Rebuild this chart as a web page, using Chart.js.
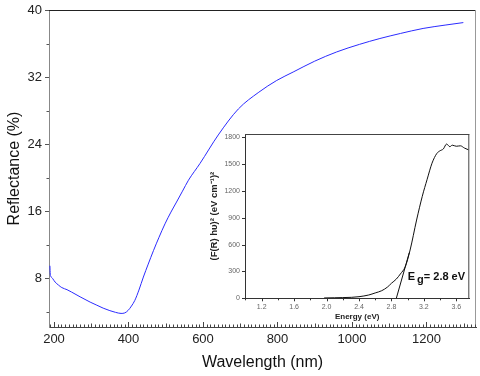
<!DOCTYPE html>
<html><head><meta charset="utf-8">
<script src="https://cdn.jsdelivr.net/npm/chart.js@4.4.0/dist/chart.umd.min.js"></script>
<style>
html,body{margin:0;padding:0;background:#fff;}
#wrap{position:relative;width:480px;height:376px;overflow:hidden;}
#main{position:absolute;left:0;top:0;}
#inset{position:absolute;left:200px;top:125px;}
</style></head><body>
<div id="wrap"><canvas id="main" width="480" height="376"></canvas><canvas id="inset" width="280" height="200"></canvas></div>
<script>
// ---- main chart data ----
const wavelength = [189,190,191,196,203,212,221,235,247,270,297,315,332,350,365,380,390,399,408,417,428,440,453,467,482,498,514,529,545,561,592,641,695,750,798,842,900,959,1020,1075,1130,1191,1250,1299];
const reflectance = [9.5,8.5,8.3,8.0,7.56,7.2,6.9,6.65,6.37,5.8,5.17,4.8,4.45,4.15,3.95,3.82,3.88,4.18,4.7,5.37,6.6,8.16,9.7,11.3,12.9,14.5,15.9,17.1,18.4,19.7,21.7,25.1,28.2,30.2,31.6,32.6,33.9,35.0,35.9,36.6,37.2,37.8,38.2,38.5];
const xTicks = [200,400,600,800,1000,1200];
const yTicks = [8,16,24,32,40];
// ---- inset data ----
const energy = [1.97,2.1,2.2,2.31,2.4,2.52,2.6,2.68,2.75,2.80,2.86,2.91,2.97,3.03,3.11,3.18,3.24,3.30,3.36,3.40,3.44,3.48,3.52,3.55,3.60,3.65,3.70,3.75];
const fr = [4,6,8,11,18,37,60,85,125,168,215,272,353,540,875,1140,1330,1510,1620,1650,1670,1725,1695,1712,1700,1705,1680,1660];
const tangentE = [2.86,3.02];
const tangentF = [0,510];
const insetXTicks = [1.2,1.6,2.0,2.4,2.8,3.2,3.6];
const insetYTicks = [0,300,600,900,1200,1500,1800];
const bandGapLabel = {E: 3.0, F: 240, main: 'E', sub: 'g', rest: '= 2.8 eV'};

const FAM = '"Liberation Sans", Arial, sans-serif';

function seg(ctx, x1, y1, x2, y2, c) {
  ctx.strokeStyle = c; ctx.beginPath(); ctx.moveTo(x1, y1); ctx.lineTo(x2, y2); ctx.stroke();
}
function noPad(s) { s.paddingTop = 0; s.paddingBottom = 0; s.paddingLeft = 0; s.paddingRight = 0; }

const mainDecor = {
  id: 'mainDecor',
  afterDraw(chart) {
    const {ctx, chartArea: a, scales: {x, y}} = chart;
    ctx.save();
    ctx.lineWidth = 1;
    seg(ctx, a.left - 1, a.top + 0.5, a.right, a.top + 0.5, '#222');
    seg(ctx, a.right - 0.5, a.top, a.right - 0.5, a.bottom, '#999');
    for (let v = 190; v <= x.max; v += 10) {
      const px = Math.round(x.getPixelForValue(v)) + 0.5;
      const len = v % 200 === 0 ? 5 : (v % 100 === 0 ? 3.5 : 2.5);
      seg(ctx, px, a.bottom, px, a.bottom - len, '#444');
    }
    for (let v = 4; v <= 40; v += 4) {
      const py = Math.round(y.getPixelForValue(v)) + 0.5;
      const len = v % 8 === 0 ? 4 : 2.5;
      seg(ctx, a.left - len, py, a.left, py, '#555');
    }
    ctx.restore();
  }
};

new Chart(document.getElementById('main'), {
  type: 'line',
  data: {datasets: [{
    data: wavelength.map((w, i) => ({x: w, y: reflectance[i]})),
    borderColor: '#2b2bff', borderWidth: 1, pointRadius: 0,
    cubicInterpolationMode: 'monotone', fill: false
  }]},
  options: {
    responsive: false, animation: false, devicePixelRatio: 1,
    layout: {padding: {top: 10, right: 4, left: 0, bottom: 0}},
    plugins: {legend: {display: false}, tooltip: {enabled: false}},
    scales: {
      x: {
        type: 'linear', min: 186.6, max: 1333,
        afterBuildTicks: s => { s.ticks = xTicks.map(v => ({value: v})); },
        afterFit: s => { s.height = 49; noPad(s); },
        grid: {display: false, drawTicks: false},
        border: {color: '#444', width: 1},
        ticks: {padding: 5, color: '#222', font: {family: FAM, size: 13}, maxRotation: 0, autoSkip: false, callback: v => String(v)},
        title: {display: true, text: 'Wavelength (nm)', color: '#111', font: {family: FAM, size: 16}, padding: {top: 0, bottom: 4}}
      },
      y: {
        type: 'linear', min: 2.2, max: 40,
        afterBuildTicks: s => { s.ticks = yTicks.map(v => ({value: v})); },
        afterFit: s => { s.width = 49; noPad(s); },
        grid: {display: false, drawTicks: false},
        border: {color: '#888', width: 1},
        ticks: {padding: 7, color: '#222', font: {family: FAM, size: 13}, autoSkip: false, callback: v => String(v)},
        title: {display: true, text: 'Reflectance (%)', color: '#111', font: {family: FAM, size: 16}, padding: {top: 5, bottom: 0}}
      }
    }
  },
  plugins: [mainDecor]
});

const insetDecor = {
  id: 'insetDecor',
  afterDraw(chart) {
    const {ctx, chartArea: a, scales: {x, y}} = chart;
    ctx.save();
    ctx.lineWidth = 1;
    seg(ctx, a.left, a.top + 0.5, a.right, a.top + 0.5, '#444');
    seg(ctx, a.right - 0.5, a.top, a.right - 0.5, a.bottom, '#444');
    for (let k = 10; k <= 37; k += 2) {
      const px = Math.round(x.getPixelForValue(k / 10)) + 0.5;
      seg(ctx, px, a.bottom, px, a.bottom + (k % 4 === 0 ? 3 : 2), '#333');
    }
    for (const v of insetYTicks) {
      const py = Math.round(y.getPixelForValue(v)) + 0.5;
      seg(ctx, a.left - 3, py, a.left, py, '#333');
    }
    // band gap label
    const bx = x.getPixelForValue(bandGapLabel.E);
    const by = y.getPixelForValue(bandGapLabel.F);
    ctx.fillStyle = '#111';
    ctx.font = 'bold 11px ' + FAM;
    ctx.textBaseline = 'middle';
    ctx.textAlign = 'left';
    ctx.fillText(bandGapLabel.main, bx, by);
    let cx = bx + ctx.measureText(bandGapLabel.main + ' ').width - 1;
    ctx.fillText(bandGapLabel.sub, cx, by + 3);
    cx += ctx.measureText(bandGapLabel.sub).width;
    ctx.fillText(bandGapLabel.rest, cx, by);
    ctx.restore();
  }
};

new Chart(document.getElementById('inset'), {
  type: 'line',
  data: {datasets: [
    {data: energy.map((e, i) => ({x: e, y: fr[i]})), borderColor: '#111', borderWidth: 1, pointRadius: 0, cubicInterpolationMode: 'monotone', fill: false},
    {data: tangentE.map((e, i) => ({x: e, y: tangentF[i]})), borderColor: '#111', borderWidth: 1, pointRadius: 0, fill: false}
  ]},
  options: {
    responsive: false, animation: false, devicePixelRatio: 1,
    layout: {padding: {top: 9, right: 10.7, left: 0, bottom: 0}},
    plugins: {legend: {display: false}, tooltip: {enabled: false}},
    scales: {
      x: {
        type: 'linear', min: 0.994, max: 3.76,
        afterBuildTicks: s => { s.ticks = insetXTicks.map(v => ({value: v})); },
        afterFit: s => { s.height = 26.7; noPad(s); },
        grid: {display: false, drawTicks: false},
        border: {color: '#333', width: 1},
        ticks: {padding: 5, color: '#666', font: {family: FAM, size: 7}, maxRotation: 0, autoSkip: false, callback: v => v.toFixed(1)},
        title: {display: true, text: 'Energy (eV)', color: '#222', font: {family: FAM, size: 8, weight: 'bold'}, padding: {top: 0, bottom: 3.5}}
      },
      y: {
        type: 'linear', min: 0, max: 1837,
        afterBuildTicks: s => { s.ticks = insetYTicks.map(v => ({value: v})); },
        afterFit: s => { s.width = 45; noPad(s); },
        grid: {display: false, drawTicks: false},
        border: {color: '#333', width: 1},
        ticks: {padding: 5, color: '#666', font: {family: FAM, size: 7}, autoSkip: false, callback: v => String(v)},
        title: {display: true, text: '(F(R) h\u03c5)\u00b2 (eV cm\u207b\u00b9)\u00b2', color: '#222', font: {family: FAM, size: 9.5, weight: 'bold'}, padding: {top: 9, bottom: 0}}
      }
    }
  },
  plugins: [insetDecor]
});
</script>
</body></html>
